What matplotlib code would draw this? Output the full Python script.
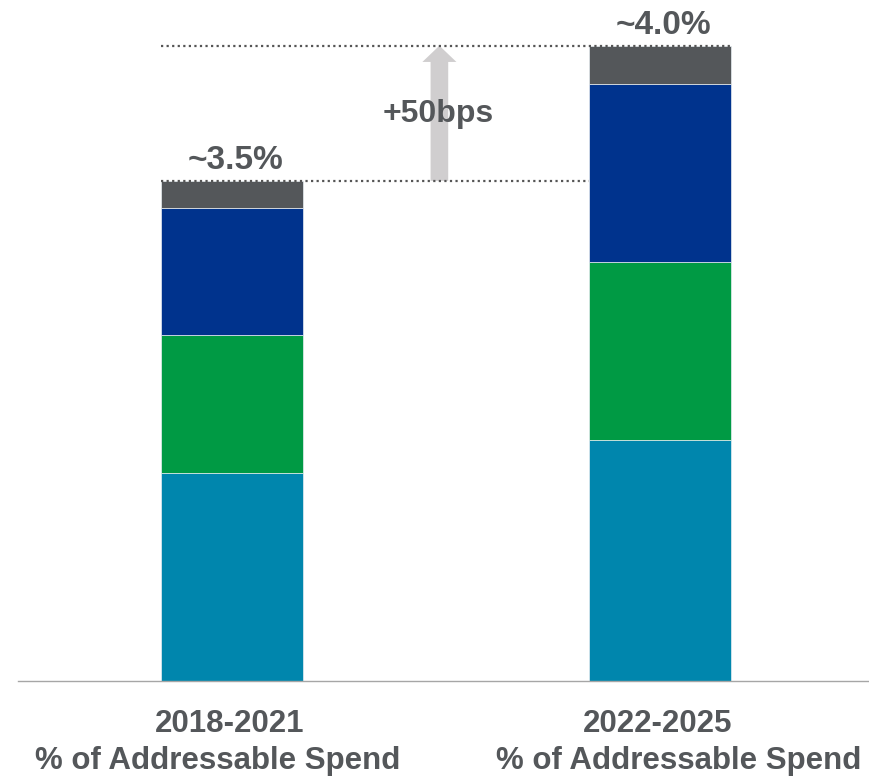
import matplotlib
matplotlib.use("Agg")
import matplotlib.pyplot as plt
from matplotlib.patches import FancyArrowPatch, ArrowStyle
import numpy as np

# --- data -------------------------------------------------------------------
periods = ["2018-2021", "2022-2025"]
period_subtitle = "% of Addressable Spend"
total_labels = ["~3.5%", "~4.0%"]
change_label = "+50bps"

# stacked components, bottom to top (percent of addressable spend)
component_1 = [2.42, 2.54]
component_2 = [0.51, 0.66]
component_3 = [0.47, 0.66]
component_4 = [0.10, 0.14]
components = [component_1, component_2, component_3, component_4]

# --- style ------------------------------------------------------------------
colors = ["#0086ad", "#009a44", "#00338d", "#54575a"]
text_color = "#54575a"
plt.rcParams["font.family"] = ["Liberation Sans", "DejaVu Sans"]

W, H, DPI = 870, 779, 100
fig = plt.figure(figsize=(W / DPI, H / DPI), dpi=DPI)
ax = fig.add_axes([18 / W, (H - 681) / H, (W - 18) / W, (681 - 45.7) / H])

x = np.arange(len(periods))
bar_w = 0.3325
y_floor = 1.65

bottom = np.zeros(len(periods))
for vals, col in zip(components, colors):
    ax.bar(x, vals, bottom=bottom, width=bar_w, color=col,
           edgecolor="#e8eef2", linewidth=0.5, zorder=2)
    bottom = bottom + np.array(vals)
totals = bottom

ax.set_xlim(-0.4995, 1.491)
ax.set_ylim(y_floor, totals.max())

# axis styling: only a grey baseline
for side in ["top", "right", "left"]:
    ax.spines[side].set_visible(False)
ax.spines["bottom"].set_color("#a6a6a6")
ax.spines["bottom"].set_linewidth(1.0)
ax.set_xticks([])
ax.set_yticks([])

# dotted reference lines at both totals
left_edge = x[0] - bar_w / 2
dot_style = dict(linestyle=(0, (1, 1.5)), color="#555555", lw=1.6,
                 clip_on=False, zorder=3)
ax.plot([left_edge, x[1] - bar_w / 2], [totals[0], totals[0]], **dot_style)
ax.plot([left_edge, x[1] + bar_w / 2], [totals[1], totals[1]], **dot_style)

# totals above bars
for xi, tot, lab in zip(x, totals, total_labels):
    ax.annotate(lab, xy=(xi, tot), xytext=(4, 12), textcoords="offset pixels",
                ha="center", va="baseline", fontsize=24, fontweight="bold",
                color=text_color, annotation_clip=False)

# increase arrow between the two totals
arrow_x = 0.485
arrow = FancyArrowPatch(
    (arrow_x, totals[0]), (arrow_x, totals[1]),
    arrowstyle=ArrowStyle.Simple(head_length=11.7, head_width=24.5,
                                 tail_width=12.7),
    mutation_scale=1, shrinkA=0, shrinkB=0,
    color="#d0cecf", lw=0, zorder=1, clip_on=False)
ax.add_patch(arrow)
ax.annotate(change_label, xy=(arrow_x, (totals[0] + totals[1]) / 2),
            xytext=(-1, -9), textcoords="offset pixels",
            ha="center", va="baseline", fontsize=23, fontweight="bold",
            color=text_color, annotation_clip=False)

# category labels under the baseline
sub_shift = [-14, 19]
for xi, lab, sh in zip(x, periods, sub_shift):
    ax.annotate(lab, xy=(xi, 0), xycoords=("data", "axes fraction"),
                xytext=(-2, -51), textcoords="offset pixels",
                ha="center", va="baseline", fontsize=22.5, fontweight="bold",
                color=text_color, annotation_clip=False)
    ax.annotate(period_subtitle, xy=(xi, 0), xycoords=("data", "axes fraction"),
                xytext=(sh, -88), textcoords="offset pixels",
                ha="center", va="baseline", fontsize=22.5, fontweight="bold",
                color=text_color, annotation_clip=False)

fig.savefig("out.png", dpi=DPI)
